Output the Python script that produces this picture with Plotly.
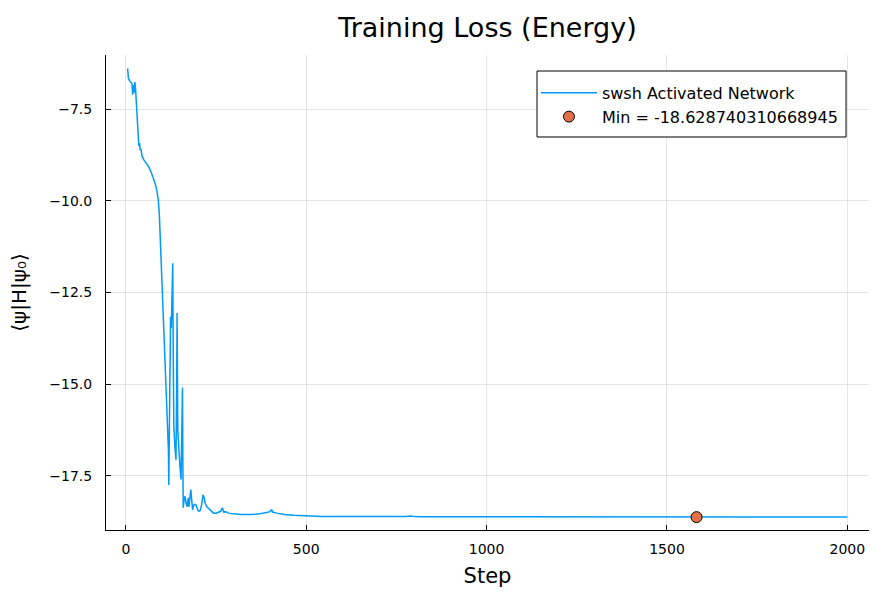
import plotly.graph_objects as go

# ---- data ----
steps = [5, 7, 10, 14, 17, 19, 21, 23, 25, 27, 30, 33, 36, 38, 40, 42, 45, 50, 57, 64,
         71, 76, 81, 86, 90, 93, 95, 97, 99, 102, 106, 110, 113, 116, 118, 119, 121, 123,
         124, 126, 128, 130, 131, 133, 136, 139, 141, 142, 144, 147, 150, 153, 155, 157,
         158, 159, 161, 164, 167, 170, 173, 175, 180, 183, 185, 188, 191, 194, 197, 200,
         203, 206, 210, 214, 217, 220, 224, 230, 237, 243, 250, 258, 263, 266, 268, 270,
         272, 276, 285, 298, 320, 344, 370, 390, 400, 404, 407, 418, 440, 465, 502, 543,
         600, 650, 700, 760, 770, 775, 790, 800, 820, 900, 1000, 1100, 1200, 1300, 1400,
         1500, 1582, 1650, 1800, 1900, 2000]
energy = [-6.39, -6.65, -6.72, -6.78, -6.80, -7.10, -6.85, -7.05, -6.76, -6.95, -7.60,
          -8.20, -8.50, -8.42, -8.62, -8.58, -8.78, -8.88, -8.97, -9.08, -9.24, -9.36,
          -9.52, -9.72, -9.98, -10.40, -10.90, -11.40, -11.90, -12.80, -13.98, -14.90,
          -15.78, -16.40, -16.79, -17.75, -16.00, -13.50, -13.16, -13.47, -12.50, -11.70,
          -13.50, -16.16, -16.70, -17.06, -15.00, -13.06, -16.25, -16.90, -17.25, -17.60,
          -16.50, -15.10, -17.00, -18.37, -18.20, -18.06, -18.25, -18.34, -18.10, -18.35,
          -17.88, -18.30, -18.43, -18.30, -18.28, -18.29, -18.38, -18.44, -18.47, -18.45,
          -18.30, -18.02, -18.10, -18.25, -18.34, -18.40, -18.46, -18.52, -18.52, -18.48,
          -18.47, -18.40, -18.38, -18.46, -18.50, -18.48, -18.52, -18.54, -18.56, -18.56,
          -18.54, -18.50, -18.48, -18.42, -18.49, -18.52, -18.56, -18.58, -18.60, -18.61,
          -18.615, -18.617, -18.618, -18.620, -18.610, -18.615, -18.600, -18.615, -18.620,
          -18.622, -18.624, -18.625, -18.626, -18.626, -18.627, -18.627, -18.628740310668945,
          -18.6275, -18.6275, -18.628, -18.628]
min_step = [1582]
min_value = [-18.628740310668945]

x_ticks = [0, 500, 1000, 1500, 2000]
y_ticks = [-7.5, -10.0, -12.5, -15.0, -17.5]

FONT = "DejaVu Sans"

fig = go.Figure()
fig.add_trace(go.Scatter(
    x=steps, y=energy, mode="lines", name="swsh Activated Network",
    line=dict(color="#009AFA", width=1.5),
))
fig.add_trace(go.Scatter(
    x=min_step, y=min_value, mode="markers",
    name=f"Min = {min_value[0]}",
    marker=dict(color="#E26F46", size=11, line=dict(color="black", width=1)),
))

axis_common = dict(
    showline=True, linecolor="black", linewidth=1, mirror=False,
    showgrid=True, gridcolor="rgba(0,0,0,0.1)", gridwidth=1,
    zeroline=False, ticks="inside", ticklen=5, tickcolor="black", tickwidth=1,
    tickfont=dict(family=FONT, size=14, color="black"),
)

fig.update_layout(
    width=872, height=592,
    margin=dict(l=106, r=3, t=55, b=62),
    paper_bgcolor="white", plot_bgcolor="white",
    title=dict(text="Training Loss (Energy)", x=0.559, xanchor="center", y=0.953, yanchor="middle",
               font=dict(family=FONT, size=27, color="black")),
    xaxis=dict(**axis_common, range=[-55, 2060], tickvals=x_ticks,
               ticktext=[str(v) for v in x_ticks], ticklabelstandoff=6,
               title=dict(text="Step", font=dict(family=FONT, size=21, color="black"), standoff=12)),
    yaxis=dict(**axis_common, range=[-18.98, -6.02], tickvals=y_ticks,
               ticktext=[f"\u2212{abs(v):.1f}" for v in y_ticks], ticklabelstandoff=10,
               title=dict(text="\u27e8\u03c8|H|\u03c8\u2080\u27e9", font=dict(family=FONT, size=20, color="black"), standoff=17)),
    legend=dict(x=0.5635, xanchor="left", y=0.956, yanchor="top",
                bgcolor="rgba(0,0,0,0)", borderwidth=0,
                font=dict(family=FONT, size=16, color="black"),
                tracegroupgap=0, itemwidth=56),
    shapes=[dict(type="rect", xref="paper", yref="paper",
                 x0=0.5649, x1=0.9699, y0=0.8274, y1=0.9663,
                 line=dict(color="black", width=1), fillcolor="white", layer="above")],
    showlegend=True,
)

fig.write_html("out.html")
